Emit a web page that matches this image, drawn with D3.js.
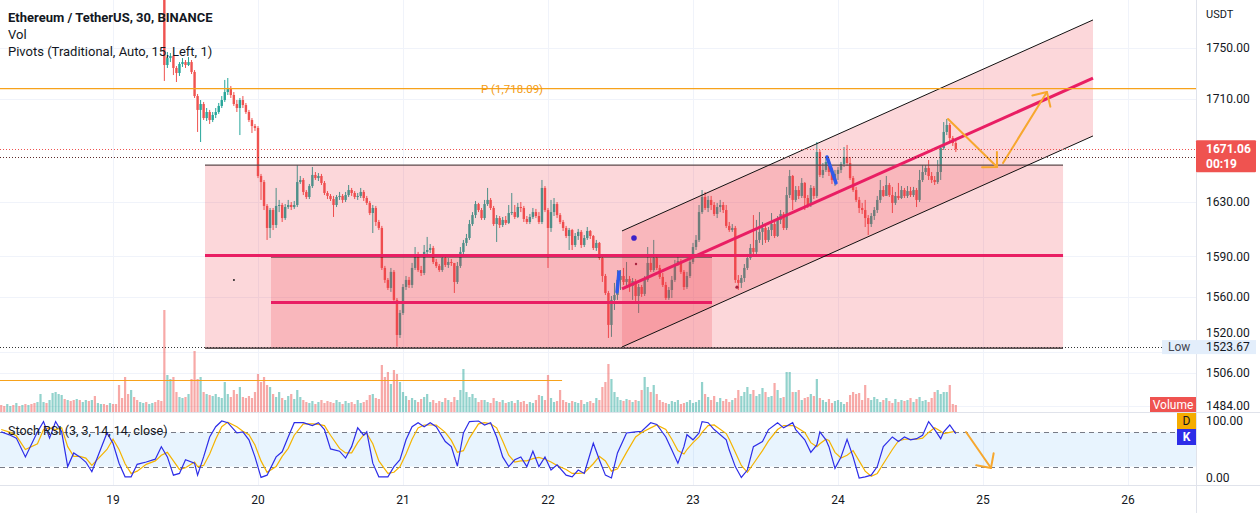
<!DOCTYPE html>
<html><head><meta charset="utf-8">
<script src="https://cdn.jsdelivr.net/npm/d3@7"></script>
<style>
body{margin:0;background:#fff;overflow:hidden}
svg{display:block}
text{font-family:Roboto,"Liberation Sans",Arial,sans-serif}
</style></head>
<body><svg id="c" width="1260" height="513"></svg>
<script>
// ---------- DATA ----------
const dayTicks = [19, 20, 21, 22, 23, 24, 25, 26];
const priceTicks = [1750, 1710, 1630, 1590, 1560, 1520, 1506, 1484];
const stochTicks = [100, 0];
const barStartDay = 18 + 11 / 48;   // time of bar 0 (day of month)
const barsPerDay = 48;              // 30-minute bars
const candleFirstBar = 54;          // first candle inside the visible price range
const candleOpen0 = 1790.0;

const closes = [
1736.4,1741.8,1743.4,1734.1,1730.2,1737.2,1738.7,1736.4,1738.7,1731.0,
1712.3,1701.5,1706.1,1695.2,1699.9,1693.7,1697.6,1699.9,1704.6,1709.2,
1715.4,1718.6,1713.1,1706.1,1703.0,1709.2,1705.3,1699.9,1693.7,1689.0,
1687.5,1650.2,1645.5,1627.1,1610.9,1624.1,1613.1,1627.1,1627.8,1618.2,
1626.3,1627.8,1626.3,1627.8,1645.5,1647.1,1637.8,1633.9,1642.4,1651.0,
1648.6,1650.2,1644.8,1637.0,1634.7,1632.3,1627.8,1633.9,1634.7,1631.6,
1635.4,1639.3,1637.0,1633.9,1634.7,1637.8,1633.1,1629.3,1621.9,1625.6,
1615.3,1610.9,1581.5,1572.7,1566.8,1578.6,1558.0,1532.2,1548.4,1567.5,
1572.7,1569.0,1581.5,1591.0,1580.0,1577.8,1593.3,1594.7,1596.2,1585.9,
1583.0,1580.0,1588.8,1583.7,1585.9,1585.2,1571.2,1583.0,1593.3,1599.9,
1603.5,1613.8,1620.4,1628.5,1624.1,1618.2,1628.5,1631.6,1625.6,1613.8,
1618.2,1613.1,1616.8,1614.6,1621.9,1622.6,1619.0,1626.3,1625.6,1617.5,
1615.3,1619.0,1622.6,1619.7,1615.3,1640.9,1624.1,1610.9,1622.6,1628.5,
1620.4,1615.3,1610.9,1605.0,1609.4,1598.4,1605.0,1608.0,1598.4,1603.5,
1608.7,1605.0,1596.2,1599.9,1588.8,1575.6,1563.1,1539.6,1558.0,1561.6,
1572.7,1575.6,1571.2,1573.4,1568.3,1571.9,1560.9,1567.5,1562.4,1572.7,
1585.2,1580.0,1588.8,1581.5,1574.9,1569.0,1559.4,1565.3,1572.7,1584.4,
1586.6,1578.6,1567.5,1575.6,1585.9,1596.9,1602.1,1622.6,1633.9,1625.6,
1631.6,1627.8,1621.2,1626.3,1627.8,1624.1,1612.4,1609.4,1610.9,1572.7,
1570.5,1574.1,1581.5,1588.8,1596.2,1593.3,1602.1,1608.0,1610.9,1602.1,
1609.4,1613.8,1605.0,1616.8,1621.2,1610.9,1635.4,1650.2,1631.6,1639.3,
1634.7,1644.8,1633.1,1627.8,1640.9,1634.7,1668.8,1651.0,1654.9,1661.1,
1653.3,1647.1,1651.8,1654.9,1659.5,1665.0,1660.3,1648.6,1639.3,1631.6,
1625.6,1624.1,1618.2,1613.8,1619.7,1624.1,1631.6,1639.3,1634.7,1643.2,
1635.4,1629.3,1634.7,1633.1,1639.3,1634.7,1638.5,1635.4,1639.3,1631.6,
1647.1,1653.3,1656.4,1650.2,1647.1,1645.5,1653.3,1671.9,1684.4,1689.8,
1679.7,1675.8,1671.06];
const highs = [
1790.8,1746.5,1745.7,1744.2,1735.6,1738.7,1741.8,1740.3,1742.6,1740.3,
1732.5,1713.9,1709.2,1707.7,1703.0,1701.5,1699.9,1703.0,1706.9,1712.3,
1724.8,1726.3,1720.1,1715.4,1709.2,1710.8,1712.3,1706.9,1701.5,1695.2,
1690.6,1689.0,1651.8,1647.1,1628.5,1625.6,1625.6,1640.9,1631.6,1629.3,
1628.5,1631.6,1630.0,1630.8,1658.7,1650.2,1648.6,1639.3,1644.0,1657.2,
1653.3,1652.5,1651.8,1646.3,1638.5,1636.2,1634.7,1635.4,1637.8,1636.2,
1637.8,1643.2,1640.9,1638.5,1637.0,1640.9,1639.3,1634.7,1630.8,1627.8,
1627.1,1616.8,1612.4,1583.0,1574.1,1581.5,1580.0,1559.4,1550.6,1569.7,
1575.6,1574.9,1585.2,1596.9,1593.3,1583.0,1598.4,1604.3,1599.1,1597.7,
1588.1,1584.4,1591.0,1590.3,1588.8,1588.1,1583.7,1585.9,1596.9,1602.1,
1606.5,1616.8,1622.6,1630.8,1629.3,1625.6,1631.6,1640.9,1633.1,1627.1,
1620.4,1619.7,1619.0,1619.7,1627.8,1637.0,1627.8,1629.3,1630.0,1627.1,
1619.7,1621.2,1625.6,1624.9,1622.6,1647.1,1642.4,1625.6,1631.6,1633.1,
1630.0,1621.9,1616.8,1612.4,1610.9,1610.2,1607.2,1610.2,1609.4,1605.7,
1611.6,1609.4,1605.7,1602.1,1600.6,1590.3,1577.1,1564.6,1560.9,1570.5,
1580.0,1580.0,1581.5,1585.9,1575.6,1574.1,1573.4,1569.7,1569.0,1575.6,
1596.9,1588.8,1602.1,1591.0,1583.7,1577.8,1571.2,1567.5,1575.6,1587.4,
1591.0,1588.1,1580.0,1578.6,1588.8,1599.9,1605.7,1627.8,1639.3,1637.8,
1634.7,1634.7,1630.0,1629.3,1631.6,1630.0,1627.8,1615.3,1613.8,1612.4,
1576.3,1576.3,1584.4,1591.8,1599.1,1620.4,1616.8,1622.6,1615.3,1612.4,
1611.6,1621.9,1615.3,1619.7,1624.1,1622.6,1641.7,1654.9,1651.0,1642.4,
1642.4,1648.6,1645.5,1635.4,1643.2,1642.4,1676.6,1670.4,1660.3,1664.2,
1662.6,1656.4,1654.9,1657.2,1661.1,1672.7,1674.3,1665.0,1650.2,1641.7,
1633.9,1629.3,1631.6,1620.4,1621.9,1626.3,1634.7,1647.1,1642.4,1650.2,
1644.8,1641.7,1637.8,1644.8,1642.4,1640.9,1642.4,1641.7,1641.7,1640.9,
1654.9,1658.7,1658.7,1662.6,1653.3,1650.2,1662.6,1673.5,1692.1,1694.5,
1691.4,1681.3,1678.2];
const lows = [
1724.0,1734.1,1738.7,1728.6,1723.2,1727.9,1734.9,1734.1,1735.6,1729.4,
1710.8,1684.4,1676.6,1693.7,1692.9,1690.6,1692.1,1695.2,1698.4,1703.0,
1707.7,1713.1,1710.8,1704.6,1699.9,1682.0,1703.0,1698.4,1692.1,1683.6,
1685.2,1648.6,1631.6,1624.1,1602.1,1603.5,1609.4,1610.9,1622.6,1615.3,
1616.8,1624.9,1624.1,1624.9,1626.3,1644.0,1635.4,1632.3,1632.3,1640.9,
1647.1,1646.3,1643.2,1635.4,1632.3,1630.8,1619.0,1626.3,1631.6,1629.3,
1630.0,1633.9,1634.7,1632.3,1631.6,1633.1,1630.8,1627.8,1620.4,1607.2,
1612.4,1609.4,1580.0,1570.5,1565.3,1563.9,1555.8,1523.67,1530.0,1546.9,
1565.3,1566.8,1566.8,1580.0,1578.6,1575.6,1576.3,1591.0,1592.5,1584.4,
1581.5,1578.6,1578.6,1582.2,1581.5,1583.0,1563.1,1569.7,1581.5,1591.0,
1597.7,1602.1,1612.4,1618.2,1622.6,1616.8,1616.8,1627.1,1624.1,1612.4,
1600.6,1610.9,1611.6,1613.1,1613.8,1620.4,1617.5,1618.2,1622.6,1615.3,
1613.8,1613.8,1617.5,1618.2,1613.8,1613.8,1622.6,1581.5,1608.0,1619.7,
1618.2,1613.8,1608.7,1603.5,1594.7,1594.7,1596.9,1602.1,1596.2,1596.9,
1602.1,1602.8,1594.7,1594.0,1587.4,1571.2,1561.6,1530.0,1530.8,1550.6,
1558.0,1565.3,1569.0,1566.8,1563.9,1558.0,1555.8,1548.4,1560.2,1560.9,
1571.2,1578.6,1578.6,1580.0,1573.4,1567.5,1558.0,1558.0,1559.4,1571.2,
1583.0,1577.1,1565.3,1566.1,1574.1,1584.4,1594.7,1600.6,1621.2,1624.1,
1622.6,1624.1,1619.7,1618.2,1622.6,1621.9,1610.9,1608.0,1608.0,1570.5,
1565.3,1566.8,1571.2,1580.0,1587.4,1591.0,1591.8,1599.9,1598.4,1599.9,
1600.6,1605.0,1603.5,1604.3,1613.8,1609.4,1609.4,1633.1,1624.1,1630.0,
1632.3,1633.1,1624.1,1625.6,1626.3,1632.3,1633.1,1649.4,1648.6,1653.3,
1650.2,1644.0,1642.4,1647.1,1652.5,1657.2,1658.0,1647.1,1637.8,1630.0,
1621.9,1621.2,1611.6,1605.7,1611.6,1616.8,1621.9,1629.3,1633.9,1636.2,
1633.9,1621.9,1627.8,1631.6,1632.3,1633.1,1633.1,1633.9,1633.9,1626.3,
1630.0,1645.5,1651.0,1647.1,1644.8,1643.2,1644.0,1647.1,1670.4,1682.0,
1676.6,1673.5,1668.8];

const volumes = [ // thousand ETH per 30-min bar, bar 0 .. 316
7,6,8,6,7,9,6,7,8,7, 8,9,10,18,10,9,12,19,20,18, 17,13,12,11,12,13,12,10,12,11,
12,16,9,8,8,7,9,8,8,27, 14,35,18,22,15,12,10,9,10,8, 9,10,12,11,102,37,33,35,20,15,
14,15,18,33,61,33,35,20,18,17, 16,18,15,14,30,18,15,22,18,25, 15,14,16,14,20,38,30,35,27,25,
18,15,20,14,12,16,18,13,22,15, 12,10,9,11,8,10,12,9,11,10, 9,12,10,8,11,9,10,8,12,9,
10,12,17,18,14,13,47,35,40,28, 42,38,30,20,16,12,14,12,10,13, 15,18,10,12,9,11,10,14,12,10,
15,12,22,43,20,15,18,14,10,12, 12,10,9,14,11,10,12,9,10,11, 9,12,10,11,8,10,9,12,17,16,
12,37,14,10,11,22,12,10,9,11, 10,9,12,8,10,11,9,14,12,25, 30,48,33,20,15,12,11,13,12,10,
12,11,22,35,25,20,27,18,12,10, 9,8,11,10,12,8,9,10,12,9, 10,12,30,18,15,12,16,10,14,11,
13,10,12,14,22,16,20,25,18,22, 16,18,24,20,15,16,29,22,14,15, 40,40,20,20,22,12,14,15,18,16,
33,14,12,10,13,9,11,12,10,8, 10,17,20,18,19,12,27,14,12,15, 13,10,12,14,11,9,13,10,12,11,
12,14,10,13,15,11,12,10,14,20, 22,18,20,20,27,8,7];
const earlyVolumeDirection = "dduudududu" + "dduuuduuuu" + "ududduduud" + "uduudduddd" + "dddudduudu" + "uddd";

const stochBars = [0,3,5,8,12,14,16,18,20,22, 24,26,28,30,35,37,39,41,43,45, 48,51,53,55,57,59,61,64,65,67,
 69,71,73,75,78,80,82,84,86,88, 91,93,95,97,100,103,105,107,109,112, 114,116,118,120,121,123,125,128,130,132,
 134,136,138,140,142,144,147,149,151,153, 155,158,160,162,164,166,168,170,172,174, 176,178,180,182,184,187,189,191,193,196,
 198,200,202,204,207,210,212,215,217,220, 222,224,226,227,229,231,232,234,236,240, 241,243,245,247,249,252,254,257,259,262,
 263,266,268,270,271,273,274,276,278,280, 282,284,286,288,290,292,295,297,299,301, 303,305,307,309,311,312,314,316];
const stochK = [81,75,70,37,81,99,70,99,81,20, 44,37,28,11,79,61,26,2,2,24, 28,33,55,37,5,8,32,26,5,37,
 72,90,100,97,79,81,67,37,1,5, 37,46,72,97,97,92,97,85,51,47, 35,55,88,75,81,26,2,2,20,32,
 67,90,97,90,97,90,64,55,21,79, 99,100,93,97,72,37,20,32,37,20, 47,20,37,14,23,5,2,14,8,61,
 32,5,0,44,79,81,82,97,94,72, 49,26,55,76,67,79,99,97,85,67, 49,20,1,14,55,64,85,97,88,97,
 85,67,45,58,81,67,55,17,37,68, 37,0,2,5,20,55,72,64,72,67, 69,75,99,85,69,81,93,78];
const stochD = [85,80,74,50,60,85,88,85,88,55, 38,38,35,22,50,68,50,25,8,12, 24,30,40,45,30,15,18,28,20,22,
 42,68,90,98,90,82,76,58,30,10, 20,38,52,75,95,95,94,92,75,52, 44,44,62,76,78,60,30,8,10,20,
 42,68,88,93,93,93,80,66,45,48, 70,95,97,95,88,65,40,28,30,30, 34,36,33,28,22,15,8,8,9,25,
 38,30,12,16,45,72,80,88,93,85, 68,48,42,50,62,72,80,92,93,78, 68,45,22,10,25,48,65,85,92,92,
 90,80,62,55,60,68,66,45,35,40, 48,30,12,3,8,25,50,65,68,68, 68,70,80,88,82,78,80,82];

// levels & drawings (time in day-of-month, price in USDT)
const pivotP = 1718.09;
const prevPivot = 1501, prevPivotEnd = 22.097;
const lastPrice = 1671.06, prevClose = 1665.2, lowPrice = 1523.67;
const rangeBox = {t0: 19.6345, t1: 25.552, top: 1658.7, bottom: 1522.7};
const innerBox = {t0: 20.0897, t1: 23.131, top: 1589.6, bottom: 1522.7};
const channel = {t0: 22.5103, t1: 25.7586, up: [1608.7, 1771.4], mid: [1566.1, 1726.3], lo: [1523.4, 1681.3]};
const arrowsPrice = [[[24.759, 1694.5], [25.097, 1657.2]], [[25.138, 1660.3], [25.441, 1715.4]]];
const arrowStoch = [[24.883, 80.7], [25.055, 17.5]];
const blueStrokes = [[[22.476, 1563.9], [22.490, 1578.6]], [[23.924, 1665.0], [23.986, 1644.8]]];

// ---------- CHART ----------
const svg = d3.select('#c');
const W = 1260, axisX = 1196, paneBottom = 412, stochBottom = 485;
const up = '#26a69a', down = '#ef5350';
const x = d3.scaleLinear().domain([19, 26]).range([113, 1128]);
const y = d3.scaleLinear()
  .domain([1750, 1710, 1630, 1590, 1560, 1523.67, 1506, 1484])
  .range([47.5, 99, 202, 256.4, 297.2, 346.6, 373, 406]);
const yVol = d3.scaleLinear().domain([0, 102]).range([paneBottom, 310]);
const yS = d3.scaleLinear().domain([0, 100]).range([478, 421]);
const barDay = i => barStartDay + i / barsPerDay;

svg.append('rect').attr('width', W).attr('height', 513).attr('fill', '#fff');
const defs = svg.append('defs');
defs.append('clipPath').attr('id', 'cm').append('rect').attr('width', axisX).attr('height', paneBottom);
defs.append('clipPath').attr('id', 'cs').append('rect').attr('y', paneBottom).attr('width', axisX).attr('height', stochBottom - paneBottom);

// grid
const grid = svg.append('g').attr('stroke', '#f0f3fa').attr('stroke-width', 1);
dayTicks.forEach(d => grid.append('line').attr('x1', Math.round(x(d)) + .5).attr('x2', Math.round(x(d)) + .5).attr('y1', 0).attr('y2', stochBottom));
priceTicks.forEach(p => grid.append('line').attr('x1', 0).attr('x2', axisX).attr('y1', Math.round(y(p)) + .5).attr('y2', Math.round(y(p)) + .5));

const main = svg.append('g').attr('clip-path', 'url(#cm)');

// volume
volumes.forEach((v, i) => {
  let isUp;
  if (i < candleFirstBar) isUp = earlyVolumeDirection[i] === 'u';
  else { const k = i - candleFirstBar; const o = k === 0 ? candleOpen0 : closes[k - 1]; isUp = closes[k] >= o; }
  const cx = x(barDay(i));
  main.append('rect').attr('x', cx - 1.1).attr('width', 2.2).attr('y', yVol(v)).attr('height', paneBottom - yVol(v))
    .attr('fill', isUp ? 'rgba(38,166,154,0.5)' : 'rgba(239,83,80,0.5)');
});

// old pivot line in lower area
main.append('line').attr('x1', 0).attr('x2', x(prevPivotEnd)).attr('y1', y(prevPivot)).attr('y2', y(prevPivot))
  .attr('stroke', '#f7a21b').attr('stroke-width', 1.2);

// candles
const cg = main.append('g');
closes.forEach((c, k) => {
  const i = candleFirstBar + k;
  const o = k === 0 ? candleOpen0 : closes[k - 1];
  const col = c >= o ? up : down;
  const cx = x(barDay(i));
  cg.append('line').attr('x1', cx).attr('x2', cx).attr('y1', y(highs[k])).attr('y2', y(lows[k])).attr('stroke', col).attr('stroke-width', 1);
  const yt = y(Math.max(o, c)), yb = y(Math.min(o, c));
  cg.append('rect').attr('x', cx - 1.2).attr('width', 2.4).attr('y', yt).attr('height', Math.max(1, yb - yt)).attr('fill', col);
});

// drawings
const pink = 'rgba(242,54,69,0.2)';
const dr = main.append('g');
dr.append('rect').attr('x', x(rangeBox.t0)).attr('width', x(rangeBox.t1) - x(rangeBox.t0))
  .attr('y', y(rangeBox.top)).attr('height', y(rangeBox.bottom) - y(rangeBox.top)).attr('fill', pink);
dr.append('rect').attr('x', x(innerBox.t0)).attr('width', x(innerBox.t1) - x(innerBox.t0))
  .attr('y', y(innerBox.top)).attr('height', y(innerBox.bottom) - y(innerBox.top)).attr('fill', pink);
const cx0 = x(channel.t0), cx1 = x(channel.t1);
dr.append('path').attr('d', `M${cx0},${y(channel.up[0])}L${cx1},${y(channel.up[1])}L${cx1},${y(channel.lo[1])}L${cx0},${y(channel.lo[0])}Z`).attr('fill', pink);
function hline(t0, t1, p, col, w) { dr.append('line').attr('x1', x(t0)).attr('x2', x(t1)).attr('y1', y(p)).attr('y2', y(p)).attr('stroke', col).attr('stroke-width', w); }
hline(rangeBox.t0, rangeBox.t1, rangeBox.top, '#5d4a4c', 1.3);
hline(rangeBox.t0, rangeBox.t1, rangeBox.bottom, '#2a1a1c', 1.3);
hline(innerBox.t0, innerBox.t1, innerBox.top, '#2a1a1c', 1.3);
hline(rangeBox.t0, rangeBox.t1, (rangeBox.top + rangeBox.bottom) / 2, '#e91e63', 3);
hline(innerBox.t0, innerBox.t1, (innerBox.top + innerBox.bottom) / 2, '#e91e63', 3);
[['up', '#111', 1], ['lo', '#111', 1], ['mid', '#e91e63', 3]].forEach(([k, col, w]) => {
  dr.append('line').attr('x1', cx0).attr('x2', cx1).attr('y1', y(channel[k][0])).attr('y2', y(channel[k][1])).attr('stroke', col).attr('stroke-width', w);
});

// markers
blueStrokes.forEach(s => dr.append('line').attr('x1', x(s[0][0])).attr('y1', y(s[0][1])).attr('x2', x(s[1][0])).attr('y2', y(s[1][1]))
  .attr('stroke', '#2f5bea').attr('stroke-width', 3.5).attr('stroke-linecap', 'round'));
dr.append('circle').attr('cx', x(22.593)).attr('cy', y(1603.5)).attr('r', 2.8).attr('fill', '#3b22c9');
dr.append('circle').attr('cx', x(23.303)).attr('cy', y(1567.4)).attr('r', 1.6).attr('fill', '#a8223f');
dr.append('circle').attr('cx', x(22.607)).attr('cy', y(1584.4)).attr('r', 1.2).attr('fill', '#a8223f');
dr.append('circle').attr('cx', x(19.834)).attr('cy', y(1572.7)).attr('r', 1).attr('fill', '#222');

// arrows
function arrow(g, p1, p2, col) {
  g.append('line').attr('x1', p1[0]).attr('y1', p1[1]).attr('x2', p2[0]).attr('y2', p2[1]).attr('stroke', col).attr('stroke-width', 2).attr('stroke-linecap', 'round');
  const a = Math.atan2(p1[1] - p2[1], p1[0] - p2[0]), L = 15;
  const pts = [[p2[0] + L * Math.cos(a + Math.PI / 4), p2[1] + L * Math.sin(a + Math.PI / 4)], p2, [p2[0] + L * Math.cos(a - Math.PI / 4), p2[1] + L * Math.sin(a - Math.PI / 4)]];
  g.append('path').attr('d', d3.line()(pts)).attr('fill', 'none').attr('stroke', col).attr('stroke-width', 2).attr('stroke-linecap', 'round').attr('stroke-linejoin', 'round');
}
const arrowCol = '#f7a72e';
arrowsPrice.forEach(a => arrow(dr, [x(a[0][0]), y(a[0][1])], [x(a[1][0]), y(a[1][1])], arrowCol));

// level lines
main.append('line').attr('x1', 0).attr('x2', axisX).attr('y1', y(pivotP)).attr('y2', y(pivotP)).attr('stroke', '#f7a21b').attr('stroke-width', 1.2);
main.append('text').attr('x', x(21.538)).attr('y', y(pivotP)).attr('dy', '0.35em').attr('font-size', 11.5).attr('fill', '#f39c12').text('P (1,718.09)');
main.append('line').attr('x1', 0).attr('x2', axisX).attr('y1', Math.round(y(lastPrice)) + .5).attr('y2', Math.round(y(lastPrice)) + .5)
  .attr('stroke', '#ef5350').attr('stroke-dasharray', '1,2');
main.append('line').attr('x1', 0).attr('x2', axisX).attr('y1', Math.round(y(prevClose)) + .5).attr('y2', Math.round(y(prevClose)) + .5)
  .attr('stroke', '#5b2a2a').attr('stroke-dasharray', '1,2');
main.append('line').attr('x1', 0).attr('x2', 1162).attr('y1', Math.round(y(lowPrice)) + .5).attr('y2', Math.round(y(lowPrice)) + .5)
  .attr('stroke', '#333').attr('stroke-dasharray', '1,2');

// ---------- STOCH RSI ----------
const st = svg.append('g').attr('clip-path', 'url(#cs)');
st.append('rect').attr('x', 0).attr('width', axisX).attr('y', yS(80)).attr('height', yS(20) - yS(80)).attr('fill', 'rgba(33,150,243,0.1)');
[80, 20].forEach(v => st.append('line').attr('x1', 0).attr('x2', axisX).attr('y1', Math.round(yS(v)) + .5).attr('y2', Math.round(yS(v)) + .5)
  .attr('stroke', '#787b86').attr('stroke-dasharray', '5,4'));
const sl = d3.line().x(d => x(barDay(d[0]))).y(d => yS(d[1]));
st.append('path').attr('d', sl(stochBars.map((b, k) => [b, stochD[k]]))).attr('fill', 'none').attr('stroke', '#f5b400').attr('stroke-width', 1.2);
st.append('path').attr('d', sl(stochBars.map((b, k) => [b, stochK[k]]))).attr('fill', 'none').attr('stroke', '#2d2de8').attr('stroke-width', 1.2);
arrow(st, [x(arrowStoch[0][0]), yS(arrowStoch[0][1])], [x(arrowStoch[1][0]), yS(arrowStoch[1][1])], arrowCol);

// ---------- SEPARATORS & AXES ----------
const sep = svg.append('g').attr('stroke', '#e0e3eb');
sep.append('line').attr('x1', 0).attr('x2', W).attr('y1', paneBottom + .5).attr('y2', paneBottom + .5);
sep.append('line').attr('x1', 0).attr('x2', W).attr('y1', stochBottom + .5).attr('y2', stochBottom + .5);
sep.append('line').attr('x1', axisX + .5).attr('x2', axisX + .5).attr('y1', 0).attr('y2', 513);

const ax = svg.append('g').attr('font-size', 12).attr('fill', '#131722');
ax.append('text').attr('x', 1206).attr('y', 14).attr('dy', '0.35em').attr('font-size', 11).text('USDT');
// the 1520 tick label is pushed up just above the "Low" label, as the platform does
priceTicks.forEach(p => ax.append('text').attr('x', 1206).attr('y', p === 1520 ? y(lowPrice) - 14 : y(p)).attr('dy', '0.35em').text(p.toFixed(2)));
stochTicks.forEach(v => ax.append('text').attr('x', 1206).attr('y', yS(v)).attr('dy', '0.35em').text(v.toFixed(2)));
dayTicks.forEach(d => ax.append('text').attr('x', x(d)).attr('y', 500).attr('dy', '0.35em').attr('text-anchor', 'middle').text(d));

// low label
svg.append('rect').attr('x', 1162).attr('y', y(lowPrice) - 6.5).attr('width', 94).attr('height', 14).attr('fill', '#e3eefb');
svg.append('text').attr('x', 1168).attr('y', y(lowPrice) + 0.5).attr('dy', '0.35em').attr('font-size', 12).attr('fill', '#434651').text('Low');
svg.append('text').attr('x', 1206).attr('y', y(lowPrice) + 0.5).attr('dy', '0.35em').attr('font-size', 12).attr('fill', '#131722').text(lowPrice.toFixed(2));

// last price label
svg.append('rect').attr('x', 1196).attr('y', y(lastPrice) - 9).attr('width', 60).attr('height', 32).attr('rx', 1).attr('fill', '#ef5350');
svg.append('text').attr('x', 1206).attr('y', y(lastPrice)).attr('dy', '0.35em').attr('font-size', 12).attr('font-weight', 'bold').attr('fill', '#fff').text(lastPrice.toFixed(2));
svg.append('text').attr('x', 1206).attr('y', y(lastPrice) + 15).attr('dy', '0.35em').attr('font-size', 12).attr('font-weight', 'bold').attr('fill', '#fff').text('00:19');

// pane labels
svg.append('rect').attr('x', 1150).attr('y', 397).attr('width', 46).attr('height', 15).attr('fill', '#ef5350');
svg.append('text').attr('x', 1173).attr('y', 404.5).attr('dy', '0.35em').attr('text-anchor', 'middle').attr('font-size', 12).attr('fill', '#fff').text('Volume');
svg.append('rect').attr('x', 1177).attr('y', 413).attr('width', 19).attr('height', 16).attr('fill', '#f5ac00');
svg.append('text').attr('x', 1186.5).attr('y', 421).attr('dy', '0.35em').attr('text-anchor', 'middle').attr('font-size', 12).attr('fill', '#131722').text('D');
svg.append('rect').attr('x', 1177).attr('y', 429).attr('width', 19).attr('height', 16).attr('fill', '#2d2de8');
svg.append('text').attr('x', 1186.5).attr('y', 437).attr('dy', '0.35em').attr('text-anchor', 'middle').attr('font-size', 12).attr('font-weight', 'bold').attr('fill', '#fff').text('K');

// header
const hd = svg.append('g').attr('fill', '#131722');
hd.append('text').attr('x', 8).attr('y', 17).attr('dy', '0.35em').attr('font-size', 13).attr('font-weight', 'bold').text('Ethereum / TetherUS, 30, BINANCE');
hd.append('text').attr('x', 8).attr('y', 34).attr('dy', '0.35em').attr('font-size', 13).text('Vol');
hd.append('text').attr('x', 8).attr('y', 51).attr('dy', '0.35em').attr('font-size', 13).text('Pivots (Traditional, Auto, 15, Left, 1)');
hd.append('text').attr('x', 8).attr('y', 431).attr('dy', '0.35em').attr('font-size', 12.5).text('Stoch RSI (3, 3, 14, 14, close)');
</script></body></html>
